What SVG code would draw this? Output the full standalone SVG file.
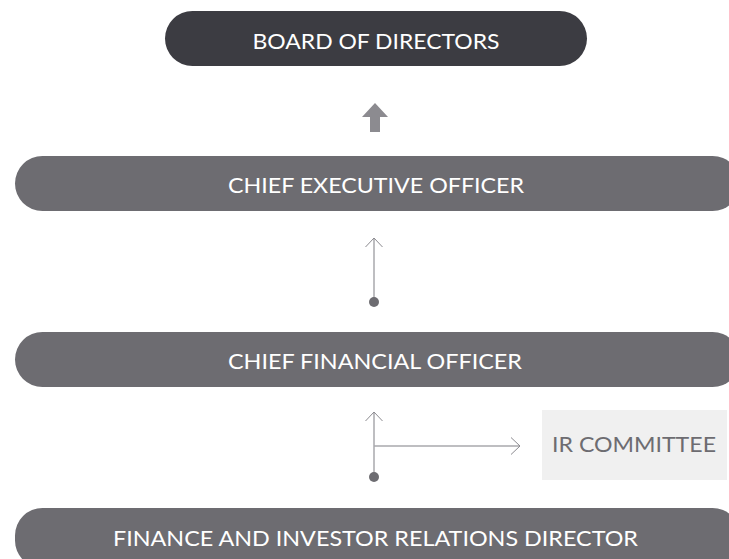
<svg xmlns="http://www.w3.org/2000/svg" width="729" height="559" viewBox="0 0 729 559">
<style>
.pill{fill:#6d6c71}
.dark{fill:#3c3c42}
.lbl{font-family:Lato,"Open Sans",sans-serif;font-size:21px;fill:#ffffff;text-anchor:middle}
.ir{font-family:Lato,"Open Sans",sans-serif;font-size:21px;fill:#6d6c71;text-anchor:middle}
.con{stroke:#a9a8ac;stroke-width:1.5;fill:none}
.dot{fill:#6d6c71}
</style>
<defs>
<marker id="chev" markerWidth="20" markerHeight="20" refX="10" refY="10" orient="auto" markerUnits="userSpaceOnUse">
<path d="M1,1.5 L10,10 L1,18.5" fill="none" stroke="#8c8b90" stroke-width="1"/>
</marker>
</defs>
<g id="board">
<rect class="dark" x="165" y="11" width="422" height="55" rx="27.5"/>
<text class="lbl" x="376" y="49" textLength="247" lengthAdjust="spacingAndGlyphs">BOARD OF DIRECTORS</text>
</g>
<g id="ceo">
<rect class="pill" x="15" y="156" width="725" height="55" rx="27.5"/>
<text class="lbl" x="376" y="193" textLength="296" lengthAdjust="spacingAndGlyphs">CHIEF EXECUTIVE OFFICER</text>
</g>
<g id="cfo">
<rect class="pill" x="15" y="332" width="725" height="55" rx="27.5"/>
<text class="lbl" x="375" y="369" textLength="294" lengthAdjust="spacingAndGlyphs">CHIEF FINANCIAL OFFICER</text>
</g>
<g id="fird">
<rect class="pill" x="15" y="508" width="725" height="60" rx="27.5"/>
<text class="lbl" x="375.5" y="546" textLength="525" lengthAdjust="spacingAndGlyphs">FINANCE AND INVESTOR RELATIONS DIRECTOR</text>
</g>
<g id="ircommittee">
<rect x="542" y="410" width="185" height="70" fill="#f0f0f0"/>
<text class="ir" x="634" y="452" textLength="164" lengthAdjust="spacingAndGlyphs">IR COMMITTEE</text>
</g>
<g id="connectors">
<path d="M375,103 L388,117 L380,117 L380,132 L370,132 L370,117 L362,117 Z" fill="#8c8b90"/>
<line class="con" x1="374" y1="302" x2="374" y2="238" marker-end="url(#chev)"/>
<circle class="dot" cx="374" cy="302" r="5"/>
<line class="con" x1="374" y1="477" x2="374" y2="412" marker-end="url(#chev)"/>
<line class="con" x1="374" y1="446" x2="520" y2="446" marker-end="url(#chev)"/>
<circle class="dot" cx="374" cy="477" r="5"/>
</g>
</svg>
